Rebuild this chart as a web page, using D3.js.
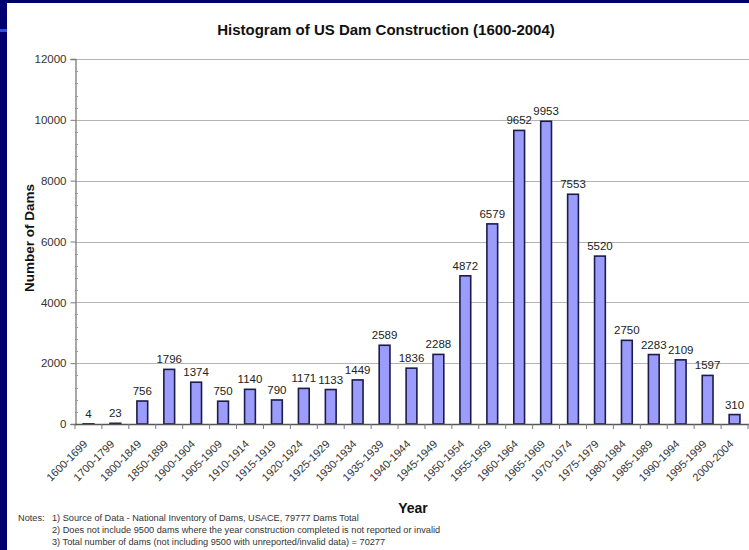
<!DOCTYPE html>
<html>
<head>
<meta charset="utf-8">
<script src="https://cdn.jsdelivr.net/npm/d3@7/dist/d3.min.js"></script>
<style>
  html, body { margin: 0; padding: 0; background: #00006e; }
  svg { display: block; }
  text { font-family: Arial, "Liberation Sans", sans-serif; }
</style>
</head>
<body>
<svg id="chart" width="749" height="550"></svg>
<script>
// Five-year (and earlier, century/half-century) construction periods
const periods = [
  "1600-1699", "1700-1799", "1800-1849", "1850-1899", "1900-1904",
  "1905-1909", "1910-1914", "1915-1919", "1920-1924", "1925-1929",
  "1930-1934", "1935-1939", "1940-1944", "1945-1949", "1950-1954",
  "1955-1959", "1960-1964", "1965-1969", "1970-1974", "1975-1979",
  "1980-1984", "1985-1989", "1990-1994", "1995-1999", "2000-2004"
];
// Dams completed in each period
const damCounts = [
  4, 23, 756, 1796, 1374,
  750, 1140, 790, 1171, 1133,
  1449, 2589, 1836, 2288, 4872,
  6579, 9652, 9953, 7553, 5520,
  2750, 2283, 2109, 1597, 310
];
const yTicks = [0, 2000, 4000, 6000, 8000, 10000, 12000];
const notes = [
  "1) Source of Data - National Inventory of Dams, USACE, 79777 Dams Total",
  "2) Does not include 9500 dams where the year construction completed is not reported or invalid",
  "3) Total number of dams (not including 9500 with unreported/invalid data) = 70277"
];

const svg = d3.select("#chart");
const W = 749, H = 550;

// slide frame: navy strip on top and left, white page
svg.append("rect").attr("width", W).attr("height", H).attr("fill", "#00006e");
svg.append("rect").attr("x", 7).attr("y", 3).attr("width", W - 7).attr("height", H - 3).attr("fill", "#ffffff");
svg.append("rect").attr("x", 0).attr("y", 29).attr("width", 7).attr("height", 3).attr("fill", "#2f4fe0");

const plot = { left: 75, right: 748, top: 59, bottom: 424 };

const x = d3.scaleBand()
  .domain(periods)
  .range([plot.left, plot.right])
  .paddingInner(0.6)
  .paddingOuter(0.3);

const y = d3.scaleLinear()
  .domain([0, 12000])
  .range([plot.bottom, plot.top]);

const rows = periods.map((p, i) => ({ p, v: damCounts[i] }));

// horizontal gridlines
svg.append("g")
  .selectAll("line")
  .data(yTicks.filter(d => d > 0))
  .join("line")
  .attr("x1", plot.left).attr("x2", plot.right + 1)
  .attr("y1", d => Math.round(y(d)) + 0.5).attr("y2", d => Math.round(y(d)) + 0.5)
  .attr("stroke", "#b4b4b4").attr("stroke-width", 1.2);

// y axis with outside major ticks
const yAxis = svg.append("g")
  .attr("transform", `translate(${plot.left + 0.5},0)`)
  .call(d3.axisLeft(y).tickValues(yTicks).tickSize(5).tickPadding(4).tickFormat(d3.format("d")));
yAxis.select(".domain").attr("stroke", "#7a7a7a").attr("stroke-width", 1.3);
yAxis.selectAll(".tick line").attr("stroke", "#7a7a7a");
yAxis.selectAll(".tick text")
  .attr("fill", "#333").style("font-size", "11.5px").style("font-family", "Arial, 'Liberation Sans', sans-serif");

// minor ticks on the inside of the y axis
const minor = d3.range(0, 12000, 400).filter(v => v % 2000 !== 0);
svg.append("g")
  .selectAll("line")
  .data(minor)
  .join("line")
  .attr("x1", plot.left).attr("x2", plot.left + 3)
  .attr("y1", d => Math.round(y(d)) + 0.5).attr("y2", d => Math.round(y(d)) + 0.5)
  .attr("stroke", "#9a9a9a");

// bars
svg.append("g")
  .selectAll("rect")
  .data(rows)
  .join("rect")
  .attr("x", d => x(d.p))
  .attr("y", d => y(d.v))
  .attr("width", x.bandwidth())
  .attr("height", d => plot.bottom - y(d.v))
  .attr("fill", "#9c9cfc")
  .attr("stroke", "#1c1c48")
  .attr("stroke-width", 1.6);

// value labels above each bar
svg.append("g")
  .selectAll("text")
  .data(rows)
  .join("text")
  .attr("x", d => x(d.p) + x.bandwidth() / 2)
  .attr("y", d => y(d.v) - 6)
  .attr("text-anchor", "middle")
  .attr("fill", "#222")
  .style("font-size", "11.5px")
  .text(d => d.v);

// x axis line and tick marks between categories
svg.append("line")
  .attr("x1", plot.left).attr("x2", plot.right + 1)
  .attr("y1", plot.bottom + 0.5).attr("y2", plot.bottom + 0.5)
  .attr("stroke", "#555").attr("stroke-width", 1.5);
const step = x.step();
svg.append("g")
  .selectAll("line")
  .data(d3.range(periods.length + 1))
  .join("line")
  .attr("x1", i => plot.left + i * step).attr("x2", i => plot.left + i * step)
  .attr("y1", plot.bottom).attr("y2", plot.bottom + 5)
  .attr("stroke", "#7a7a7a");

// rotated category labels
svg.append("g")
  .selectAll("text")
  .data(periods)
  .join("text")
  .attr("transform", d => `translate(${x(d) + x.bandwidth() / 2 - 3},${plot.bottom + 18}) rotate(-45)`)
  .attr("text-anchor", "end")
  .attr("dy", "0.35em")
  .attr("fill", "#333")
  .style("font-size", "11px")
  .text(d => d);

// titles
svg.append("text")
  .attr("x", 386).attr("y", 35)
  .attr("text-anchor", "middle")
  .attr("fill", "#111")
  .style("font-size", "15px").style("font-weight", "bold")
  .text("Histogram of US Dam Construction (1600-2004)");

svg.append("text")
  .attr("transform", "translate(34,238) rotate(-90)")
  .attr("text-anchor", "middle")
  .attr("fill", "#111")
  .style("font-size", "13.5px").style("font-weight", "bold")
  .text("Number of Dams");

svg.append("text")
  .attr("x", 413).attr("y", 513)
  .attr("text-anchor", "middle")
  .attr("fill", "#111")
  .style("font-size", "14px").style("font-weight", "bold")
  .text("Year");

// footnotes
const noteG = svg.append("g").attr("fill", "#333").style("font-size", "9.2px");
noteG.append("text").attr("x", 18).attr("y", 521).text("Notes:");
noteG.selectAll("text.n")
  .data(notes)
  .join("text")
  .attr("class", "n")
  .attr("x", 52)
  .attr("y", (d, i) => 521 + i * 12)
  .text(d => d);
</script>
</body>
</html>
